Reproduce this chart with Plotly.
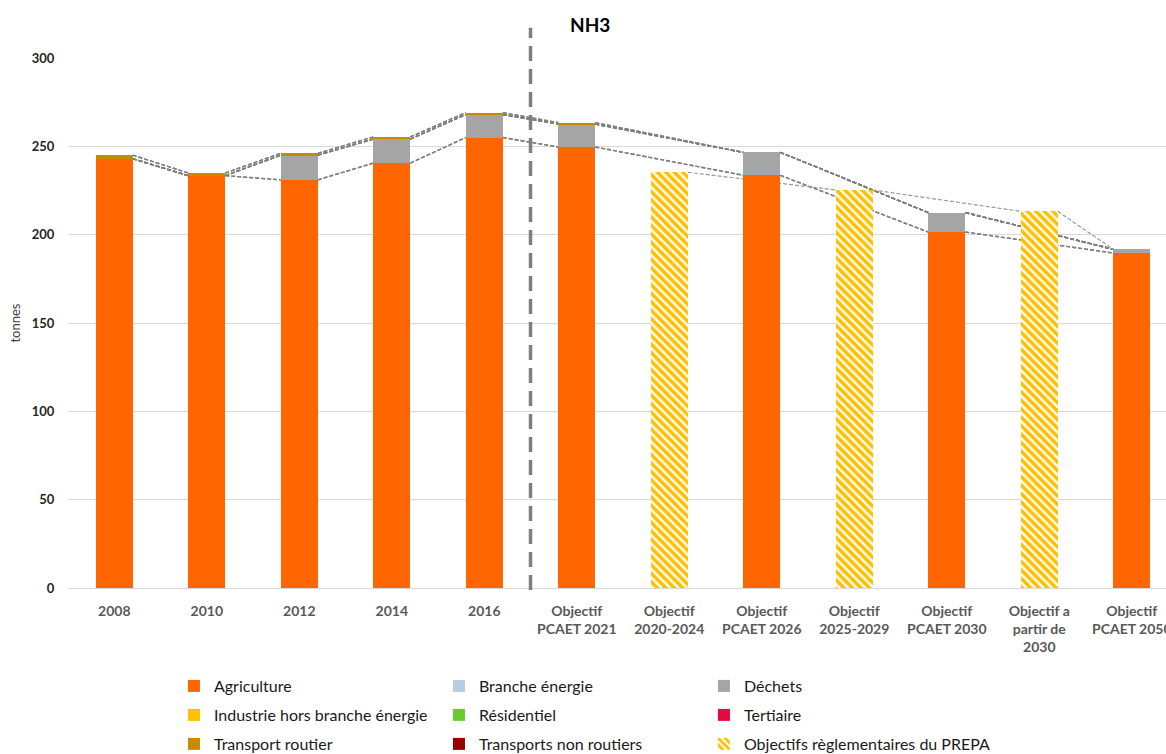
import plotly.graph_objects as go

# Categories (x axis) and their printed labels
labels = [
    "2008", "2010", "2012", "2014", "2016",
    "Objectif<br>PCAET 2021", "Objectif<br>2020-2024", "Objectif<br>PCAET 2026",
    "Objectif<br>2025-2029", "Objectif<br>PCAET 2030", "Objectif a<br>partir de<br>2030",
    "Objectif<br>PCAET 2050",
]
positions = list(range(len(labels)))

# NH3 emissions by sector (tonnes); None where the category holds a PREPA target
agriculture = [243.0, 233.4, 231.0, 240.5, 255.0, 249.6, None, 233.6, None, 201.5, None, 189.6]
branche_energie = [0, 0, 0, 0, 0, 0, None, 0, None, 0, None, 0]
dechets = [0, 0, 14.0, 13.6, 13.0, 13.0, None, 13.0, None, 11.0, None, 2.1]
industrie = [0, 0, 0, 0, 0, 0, None, 0, None, 0, None, 0]
residentiel = [0, 0, 0, 0, 0, 0, None, 0, None, 0, None, 0]
tertiaire = [0, 0, 0, 0, 0, 0, None, 0, None, 0, None, 0]
transport_routier = [2.0, 1.5, 1.0, 1.2, 1.1, 0.8, None, 0, None, 0, None, 0]
transports_non_routiers = [0, 0, 0, 0, 0, 0, None, 0, None, 0, None, 0]

# Regulatory PREPA targets
prepa = [None, None, None, None, None, None, 235.3, None, 225.3, None, 213.2, None]

sectors = [
    ("Agriculture", agriculture, "#FF6600", "legend"),
    ("Branche énergie", branche_energie, "#B8CCE4", "legend"),
    ("Déchets", dechets, "#A5A5A5", "legend"),
    ("Industrie hors branche énergie", industrie, "#FFC000", "legend2"),
    ("Résidentiel", residentiel, "#66CC33", "legend2"),
    ("Tertiaire", tertiaire, "#E30B3F", "legend2"),
    ("Transport routier", transport_routier, "#C98A00", "legend3"),
    ("Transports non routiers", transports_non_routiers, "#990000", "legend3"),
]

BARGAP = 0.6
HALF = (1 - BARGAP) / 2

fig = go.Figure()
for name, vals, color, leg in sectors:
    fig.add_trace(go.Bar(
        x=positions, y=vals, name=name, legend=leg,
        marker=dict(color=color, line=dict(width=0)),
    ))

fig.add_trace(go.Bar(
    x=positions, y=prepa, name="Objectifs règlementaires du PREPA", legend="legend4",
    marker=dict(
        color="white", line=dict(width=0),
        pattern=dict(shape="\\", fgcolor="#FFC000", bgcolor="white", size=6,
                     solidity=0.6, fgopacity=1),
    ),
))

# Series lines joining each stacked level between consecutive sector bars
shapes = []
sector_idx = [i for i, v in enumerate(agriculture) if v is not None]
cumulative = []
running = [0.0] * len(labels)
for _, vals, _, _ in sectors:
    running = [r + (v or 0) for r, v in zip(running, vals)]
    cumulative.append(list(running))
for a, b in zip(sector_idx[:-1], sector_idx[1:]):
    for level in cumulative:
        shapes.append(dict(
            type="line", xref="x", yref="y", layer="between",
            x0=a + HALF, y0=level[a], x1=b - HALF, y1=level[b],
            line=dict(color="#7F7F7F", width=1.4, dash="4px,2px"),
        ))

# Lines joining the PREPA targets, the last one running to the next total
prepa_idx = [i for i, v in enumerate(prepa) if v is not None]
totals = cumulative[-1]
prepa_line = dict(color="#999999", width=1.2, dash="4px,2px")
for a, b in zip(prepa_idx[:-1], prepa_idx[1:]):
    shapes.append(dict(
        type="line", xref="x", yref="y", layer="between",
        x0=a + HALF, y0=prepa[a], x1=b - HALF, y1=prepa[b], line=prepa_line,
    ))
last = prepa_idx[-1]
shapes.append(dict(
    type="line", xref="x", yref="y", layer="between",
    x0=last + HALF, y0=prepa[last], x1=last + 1 - HALF, y1=totals[last + 1], line=prepa_line,
))

# Divider between historical data and targets
shapes.append(dict(
    type="line", xref="x", yref="paper", layer="above",
    x0=4.5, x1=4.5, y0=-0.004, y1=1.057,
    line=dict(color="#7F7F7F", width=3.5, dash="15px,8px"),
))

# Legend laid out as a 3-column grid, one legend per row
LEG_X = 0.0965
COL_PX = 265
legend_common = dict(
    orientation="h", xanchor="left", yanchor="middle", x=LEG_X,
    entrywidth=COL_PX - 45, entrywidthmode="pixels", traceorder="normal",
    font=dict(family="Lato", size=16, color="#1a1a1a"),
    bgcolor="rgba(0,0,0,0)", borderwidth=0,
)
legend_last = dict(legend_common, x=LEG_X + 2 * COL_PX / 1098, y=-0.2943)
legend_last.pop("entrywidth")
legend_last.pop("entrywidthmode")

fig.update_layout(
    width=1166, height=754,
    margin=dict(l=68, r=0, t=58, b=166, autoexpand=False),
    paper_bgcolor="white", plot_bgcolor="white",
    barmode="stack", bargap=BARGAP,
    font=dict(family="Lato"),
    shapes=shapes,
    legend=dict(legend_common, y=-0.1849),
    legend2=dict(legend_common, y=-0.2396),
    legend3=dict(legend_common, y=-0.2943),
    legend4=legend_last,
    annotations=[dict(
        text="<b>NH3</b>", xref="paper", yref="paper",
        x=(590 - 68) / 1098, y=(588 - 25) / 530, xanchor="center", yanchor="middle",
        showarrow=False, font=dict(family="Lato", size=19, color="#000000"),
    )],
    xaxis=dict(
        range=[-0.5, 11.37], tickmode="array", tickvals=positions,
        ticktext=[f"<b>{t}</b>" for t in labels], ticklabeloverflow="allow",
        tickfont=dict(family="Lato", size=14, color="#595959"),
        ticks="outside", ticklen=10, tickcolor="rgba(0,0,0,0)",
        showgrid=False, zeroline=False, showline=False, fixedrange=True,
    ),
    yaxis=dict(
        range=[0, 300], dtick=50, tickformat="d",
        tickfont=dict(family="Lato", size=13, color="#262626", weight="bold"),
        ticks="outside", ticklen=10, tickcolor="rgba(0,0,0,0)",
        gridcolor="#D9D9D9", gridwidth=1, zeroline=True, zerolinecolor="#D9D9D9", zerolinewidth=1,
        showline=False,
        title=dict(text="tonnes", font=dict(family="Lato", size=13, color="#404040"), standoff=8),
    ),
)

fig.write_html("out.html")
